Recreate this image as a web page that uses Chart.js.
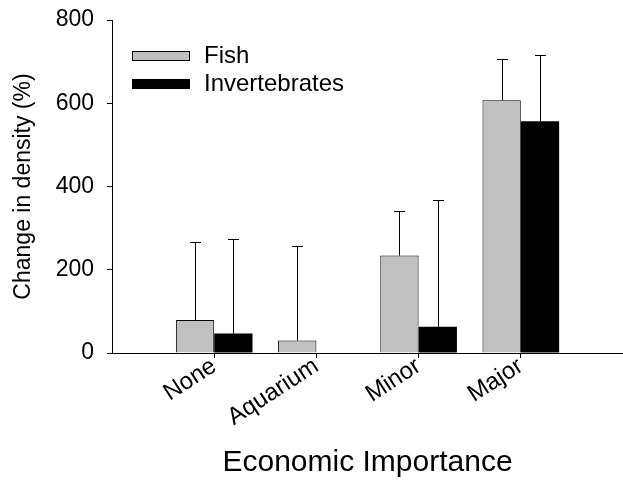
<!DOCTYPE html>
<html>
<head>
<meta charset="utf-8">
<script src="https://cdn.jsdelivr.net/npm/chart.js@4.4.1/dist/chart.umd.min.js"></script>
<style>
  html, body { margin: 0; padding: 0; background: #fff; }
  #wrap { width: 623px; height: 481px; }
</style>
</head>
<body>
<div id="wrap"><canvas id="c" width="623" height="481"></canvas></div>
<script>
// ---- data ----
const categories = ['None', 'Aquarium', 'Minor', 'Major'];
const seriesNames = ['Fish', 'Invertebrates'];
const fishMean = [79, 30, 234, 607];
const fishErr = [187, 228, 106, 100];
const invMean = [47, null, 63, 557];
const invErr = [226, null, 305, 160];
const yTicks = [0, 200, 400, 600, 800];

const FONT = '"Liberation Sans", Arial, Helvetica, sans-serif';

const errorBars = {
  id: 'errorBars',
  afterDatasetsDraw(chart) {
    const ctx = chart.ctx;
    const ys = chart.scales.y;
    chart.data.datasets.forEach((ds, di) => {
      const meta = chart.getDatasetMeta(di);
      meta.data.forEach((el, i) => {
        const m = ds.data[i].y;
        const e = ds.errors[i];
        if (m == null || e == null) return;
        const top = ys.getPixelForValue(m + e);
        const x = Math.round(el.x) + 0.5;
        ctx.save();
        ctx.strokeStyle = '#000';
        ctx.lineWidth = 1;
        ctx.beginPath();
        ctx.moveTo(x, el.y);
        ctx.lineTo(x, Math.round(top) + 0.5);
        ctx.moveTo(x - 5.5, Math.round(top) + 0.5);
        ctx.lineTo(x + 5.5, Math.round(top) + 0.5);
        ctx.stroke();
        ctx.restore();
      });
    });
  }
};

const insideLegend = {
  id: 'insideLegend',
  afterDraw(chart) {
    const ctx = chart.ctx;
    const ca = chart.chartArea;
    const x0 = ca.left + 20;
    let y0 = ca.top + 31;
    ctx.save();
    ctx.font = '24px ' + FONT;
    ctx.textBaseline = 'middle';
    ctx.textAlign = 'left';
    chart.data.datasets.forEach((ds) => {
      ctx.fillStyle = ds.backgroundColor;
      ctx.fillRect(x0, y0, 58, 10);
      ctx.strokeStyle = '#000';
      ctx.lineWidth = 1;
      ctx.strokeRect(x0 + 0.5, y0 + 0.5, 57, 9);
      ctx.fillStyle = '#000';
      ctx.fillText(ds.label, x0 + 72, y0 + 5);
      y0 += 28;
    });
    ctx.restore();
  }
};

new Chart(document.getElementById('c'), {
  type: 'bar',
  data: {
    datasets: [
      {
        label: seriesNames[0],
        data: fishMean.map((v, i) => ({ x: i + 1, y: v })),
        errors: fishErr,
        backgroundColor: '#c0c0c0',
        borderColor: '#000',
        borderWidth: 1,
        borderSkipped: 'bottom'
      },
      {
        label: seriesNames[1],
        data: invMean.map((v, i) => ({ x: i + 1, y: v })),
        errors: invErr,
        backgroundColor: '#000',
        borderColor: '#000',
        borderWidth: 0
      }
    ]
  },
  options: {
    responsive: false,
    animation: false,
    devicePixelRatio: 1,
    categoryPercentage: 0.75,
    barPercentage: 1.0,
    layout: { padding: { top: 20, right: 0, bottom: 0, left: 0 } },
    plugins: {
      legend: { display: false },
      tooltip: { enabled: false }
    },
    scales: {
      x: {
        type: 'linear',
        min: 0,
        max: categories.length + 1,
        offset: false,
        afterBuildTicks: (s) => { s.ticks = categories.map((c, i) => ({ value: i + 1 })); },
        afterFit: (s) => { s.height = 128; s.paddingLeft = 0; s.paddingRight = 0; },
        grid: { display: true, offset: false, drawOnChartArea: false, drawTicks: true, tickLength: 5, color: '#000' },
        border: { display: true, color: '#000', width: 1 },
        ticks: {
          autoSkip: false,
          minRotation: 33,
          maxRotation: 33,
          padding: -6,
          color: '#000',
          font: { family: FONT, size: 24 },
          callback: (v) => categories[v - 1] !== undefined ? categories[v - 1] : ''
        },
        title: {
          display: true,
          text: 'Economic Importance',
          color: '#000',
          font: { family: FONT, size: 30 },
          padding: { top: 0, bottom: 0 }
        }
      },
      y: {
        min: 0,
        max: 800,
        afterBuildTicks: (s) => { s.ticks = yTicks.map(v => ({ value: v })); },
        afterFit: (s) => { s.width = 112; s.paddingTop = 0; s.paddingBottom = 0; },
        grid: { display: true, drawOnChartArea: false, drawTicks: true, tickLength: 5, color: '#000' },
        border: { display: true, color: '#000', width: 1 },
        ticks: {
          padding: 13,
          color: '#000',
          font: { family: FONT, size: 23 }
        },
        title: {
          display: true,
          text: 'Change in density (%)',
          color: '#000',
          font: { family: FONT, size: 23 },
          padding: { top: 10, bottom: 0 }
        }
      }
    }
  },
  plugins: [errorBars, insideLegend]
});
</script>
</body>
</html>
